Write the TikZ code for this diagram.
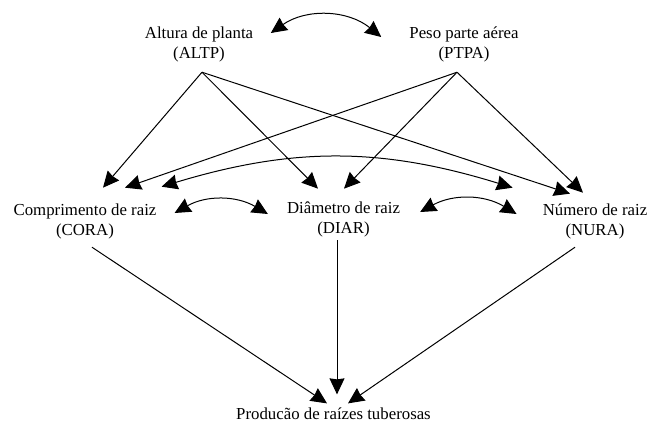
\documentclass[tikz,border=0pt]{standalone}
\usepackage{fontspec}
\setmainfont{Liberation Serif}
\usetikzlibrary{arrows.meta}

\begin{document}
\begin{tikzpicture}[
        x=1pt, y=-1pt, % pixel-like units, y going down
        arrow/.style={line width=1pt, -{Stealth[length=16pt, width=15pt, inset=1pt]}}, % Arrow style
        dblarrow/.style={line width=1pt, {Stealth[length=16pt, width=15pt, inset=1pt]}-{Stealth[length=16pt, width=15pt, inset=1pt]}}, % Two-way arrow
        every node/.style={inner sep=0pt, align=center, font=\fontsize{16.8}{20}\selectfont} % Node style
    ]
        \useasboundingbox (0,0) rectangle (651,429);

        % Top row
        \node (altp) at (199,44) {Altura de planta\\(ALTP)};
        \node (ptpa) at (464,44) {Peso parte aérea\\(PTPA)};

        % Middle row
        \node (cora) at (85,221) {Comprimento de raiz\\(CORA)};
        \node (diar) at (343.5,219) {Diâmetro de raiz\\(DIAR)};
        \node (nura) at (595,221) {Número de raiz\\(NURA)};

        % Bottom
        \node (prod) at (333.5,414) {Producão de raízes tuberosas};

        % Correlations
        \draw [dblarrow] ([xshift=17.5pt,yshift=11pt]altp.east) to[bend left=37] ([xshift=-28pt,yshift=7pt]ptpa.west);
        \draw [dblarrow] ([xshift=18pt,yshift=8pt]cora.east) to[bend left=30] ([xshift=-19pt,yshift=5pt]diar.west);
        \draw [dblarrow] ([xshift=20pt,yshift=7pt]diar.east) to[bend left=30] ([xshift=-26pt,yshift=7pt]nura.west);
        \draw [dblarrow] ([xshift=5pt,yshift=16.5pt]cora.north east) to[bend left=17] ([xshift=-30pt,yshift=15.5pt]nura.north west);

        % From ALTP
        \draw [arrow] ([xshift=3pt,yshift=-10.4pt]altp.south) -- ([xshift=18pt,yshift=15.5pt]cora.north);
        \draw [arrow] ([xshift=3pt,yshift=-10.4pt]altp.south) -- ([xshift=-25.5pt,yshift=12.5pt]diar.north);
        \draw [arrow] ([xshift=3pt,yshift=-10.4pt]altp.south) -- ([xshift=-25pt,yshift=9.5pt]nura.north);

        % From PTPA
        \draw [arrow] ([xshift=-7pt,yshift=-10.4pt]ptpa.south) -- ([xshift=40pt,yshift=15.5pt]cora.north);
        \draw [arrow] ([xshift=-7pt,yshift=-10.4pt]ptpa.south) -- ([xshift=0.5pt,yshift=12.5pt]diar.north);
        \draw [arrow] ([xshift=-7pt,yshift=-10.4pt]ptpa.south) -- ([xshift=-12pt,yshift=10.5pt]nura.north);

        % Into production
        \draw [arrow] ([xshift=7pt,yshift=-8.4pt]cora.south) -- ([xshift=-6.5pt,yshift=4.5pt]prod.north);
        \draw [arrow] ([xshift=-6.5pt,yshift=-3.4pt]diar.south) -- ([xshift=3.5pt,yshift=13.5pt]prod.north);
        \draw [arrow] ([xshift=-20pt,yshift=-8.4pt]nura.south) -- ([xshift=14.5pt,yshift=4.5pt]prod.north);

    \end{tikzpicture}
\end{document}
